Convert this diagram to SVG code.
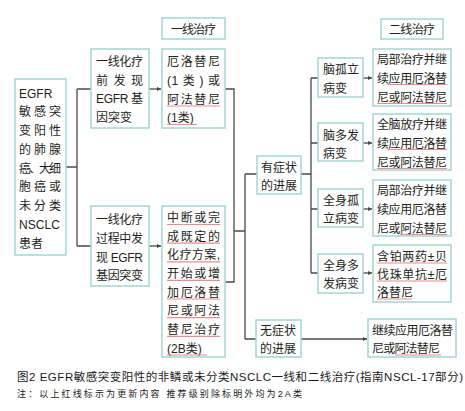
<svg xmlns="http://www.w3.org/2000/svg" width="465" height="411" viewBox="0 0 465 411">
<defs>
<marker id="ah" markerWidth="4" markerHeight="4" refX="4" refY="2" orient="auto" markerUnits="userSpaceOnUse">
<path d="M0,0 L4,2 L0,4 z" fill="#444"/>
</marker>
<style>
.box{fill:#fff;stroke:#a3d6d6;stroke-width:1.5}
.t{font-family:"Liberation Sans","Noto Sans CJK SC",sans-serif;font-size:12px;fill:#231f20}
.h{font-family:"Liberation Sans","Noto Sans CJK SC",sans-serif;font-size:12px;fill:#231f20}
.c{fill:none;stroke:#4a4a4a;stroke-width:1.3}
.ul{stroke:#f08a8a;stroke-width:1.2}
.cap{font-family:"Liberation Sans","Noto Sans CJK SC",sans-serif;fill:#1a1a1a}
</style>
</defs>
<rect width="465" height="411" fill="#fff"/>

<g id="connectors">
<path class="c" d="M66,167 H77 M77,89 V246 M77,89 H91 M77,246 H91"/>
<path class="c" d="M149,89 H161" marker-end="url(#ah)"/>
<path class="c" d="M149,246 H161" marker-end="url(#ah)"/>
<path class="c" d="M225,89 H234 V282 H225 M234,231 H245 M245,174 V339 M245,174 H257 M245,339 H256"/>
<path class="c" d="M301,174 H311 M311,78 V273 M311,78 H318 M311,143 H318 M311,209 H318 M311,273 H318"/>
<path class="c" d="M363,78 H372" marker-end="url(#ah)"/>
<path class="c" d="M363,143 H372" marker-end="url(#ah)"/>
<path class="c" d="M363,209 H372" marker-end="url(#ah)"/>
<path class="c" d="M363,273 H372" marker-end="url(#ah)"/>
<path class="c" d="M301,339 H367" stroke-width="1.6" stroke="#666" marker-end="url(#ah)"/>
</g>

<g id="header1">
<rect class="box" x="162" y="18" width="63" height="21"/>
<text class="h" x="171" y="33.5" textLength="45" lengthAdjust="spacing">一线治疗</text>
</g>
<g id="header2">
<rect class="box" x="381" y="19" width="62" height="20"/>
<text class="h" x="389" y="34" textLength="46" lengthAdjust="spacing">二线治疗</text>
</g>

<g id="patient">
<rect class="box" x="15" y="79" width="51" height="176"/>
<text class="t" x="19" y="97.5">EGFR</text>
<text class="t" x="19" y="116.3" textLength="42" lengthAdjust="spacing">敏感突</text>
<text class="t" x="19" y="135" textLength="42" lengthAdjust="spacing">变阳性</text>
<text class="t" x="19" y="153.8" textLength="42" lengthAdjust="spacing">的肺腺</text>
<text class="t" x="19" y="172.5" textLength="42" lengthAdjust="spacing">癌、大细</text>
<text class="t" x="19" y="191.3" textLength="42" lengthAdjust="spacing">胞癌或</text>
<text class="t" x="19" y="210" textLength="42" lengthAdjust="spacing">未分类</text>
<text class="t" x="19" y="228.8" textLength="41" lengthAdjust="spacing">NSCLC</text>
<text class="t" x="19" y="247.5">患者</text>
</g>

<g id="before">
<rect class="box" x="91" y="49" width="58" height="79"/>
<text class="t" x="96" y="65.5" textLength="47" lengthAdjust="spacing">一线化疗</text>
<text class="t" x="96" y="84.5" textLength="47" lengthAdjust="spacing">前发现</text>
<text class="t" x="96" y="103" textLength="47" lengthAdjust="spacing">EGFR 基</text>
<text class="t" x="96" y="121.5">因突变</text>
</g>

<g id="during">
<rect class="box" x="91" y="206" width="58" height="80"/>
<text class="t" x="96" y="223.5" textLength="47" lengthAdjust="spacing">一线化疗</text>
<text class="t" x="96" y="242.5" textLength="47" lengthAdjust="spacing">过程中发</text>
<text class="t" x="96" y="261.5" textLength="47" lengthAdjust="spacing">现 EGFR</text>
<text class="t" x="96" y="280" textLength="47" lengthAdjust="spacing">基因突变</text>
</g>

<g id="tx1">
<rect class="box" x="162" y="49" width="63" height="79"/>
<text class="t" x="167" y="65.5" textLength="53" lengthAdjust="spacing">厄洛替尼</text>
<text class="t" x="167" y="84.5" textLength="53" lengthAdjust="spacing">(1 类 ) 或</text>
<text class="t" x="167" y="103.5" textLength="53" lengthAdjust="spacing">阿法替尼</text>
<text class="t" x="167" y="121.5">(1类)</text>
<path class="ul" d="M167,106 H220 M167,124.5 H197"/>
</g>

<g id="tx2">
<rect class="box" x="162" y="206" width="63" height="151"/>
<text class="t" x="167" y="222" textLength="53" lengthAdjust="spacing">中断或完</text>
<text class="t" x="167" y="240.6" textLength="53" lengthAdjust="spacing">成既定的</text>
<text class="t" x="167" y="259.3" textLength="53" lengthAdjust="spacing">化疗方案,</text>
<text class="t" x="167" y="277.9" textLength="53" lengthAdjust="spacing">开始或增</text>
<text class="t" x="167" y="296.5" textLength="53" lengthAdjust="spacing">加厄洛替</text>
<text class="t" x="167" y="315.2" textLength="53" lengthAdjust="spacing">尼或阿法</text>
<text class="t" x="167" y="333.8" textLength="53" lengthAdjust="spacing">替尼治疗</text>
<text class="t" x="167" y="352.5">(2B类)</text>
<path class="ul" d="M167,224.5 H220 M167,243.1 H220 M167,261.8 H220 M167,280.4 H220 M167,299 H220 M167,317.7 H220 M167,336.3 H220 M167,355 H207"/>
</g>

<g id="symptomatic">
<rect class="box" x="257" y="156" width="44" height="38"/>
<text class="t" x="261" y="171.5">有症状</text>
<text class="t" x="261" y="189.5">的进展</text>
</g>
<g id="asymptomatic">
<rect class="box" x="256" y="320" width="45" height="37"/>
<text class="t" x="260" y="334.5">无症状</text>
<text class="t" x="260" y="352.5">的进展</text>
</g>

<g id="brain-iso">
<rect class="box" x="318" y="58" width="45" height="39"/>
<text class="t" x="323" y="73.5" textLength="36" lengthAdjust="spacing">脑孤立</text>
<text class="t" x="323" y="92.5">病变</text>
</g>
<g id="brain-multi">
<rect class="box" x="318" y="123" width="45" height="38"/>
<text class="t" x="323" y="139.5">脑多发</text>
<text class="t" x="323" y="157.5">病变</text>
</g>
<g id="sys-iso">
<rect class="box" x="318" y="189" width="45" height="38"/>
<text class="t" x="323" y="204.5">全身孤</text>
<text class="t" x="323" y="222.5">立病变</text>
</g>
<g id="sys-multi">
<rect class="box" x="318" y="254" width="45" height="39"/>
<text class="t" x="323" y="269.5">全身多</text>
<text class="t" x="323" y="287.5">发病变</text>
</g>

<g id="r1">
<rect class="box" x="373" y="49" width="78" height="57"/>
<text class="t" x="377" y="63.5" textLength="70" lengthAdjust="spacing">局部治疗并继</text>
<text class="t" x="377" y="82.5" textLength="70" lengthAdjust="spacing">续应用厄洛替</text>
<text class="t" x="377" y="101.5" textLength="70" lengthAdjust="spacing">尼或阿法替尼</text>
<path class="ul" d="M388,84.5 H447 M377,103.5 H447"/>
</g>
<g id="r2">
<rect class="box" x="373" y="114" width="78" height="56"/>
<text class="t" x="377" y="128.5" textLength="70" lengthAdjust="spacing">全脑放疗并继</text>
<text class="t" x="377" y="147.5" textLength="70" lengthAdjust="spacing">续应用厄洛替</text>
<text class="t" x="377" y="166.5" textLength="70" lengthAdjust="spacing">尼或阿法替尼</text>
<path class="ul" d="M388,149.5 H447 M377,168.5 H447"/>
</g>
<g id="r3">
<rect class="box" x="373" y="180" width="78" height="56"/>
<text class="t" x="377" y="194.5" textLength="70" lengthAdjust="spacing">局部治疗并继</text>
<text class="t" x="377" y="213.5" textLength="70" lengthAdjust="spacing">续应用厄洛替</text>
<text class="t" x="377" y="232.5" textLength="70" lengthAdjust="spacing">尼或阿法替尼</text>
<path class="ul" d="M400,234.5 H447"/>
</g>
<g id="r4">
<rect class="box" x="373" y="245" width="78" height="57"/>
<text class="t" x="377" y="260.5" textLength="70" lengthAdjust="spacing">含铂两药±贝</text>
<text class="t" x="377" y="278.5" textLength="70" lengthAdjust="spacing">伐珠单抗±厄</text>
<text class="t" x="377" y="296.5">洛替尼</text>
<path class="ul" d="M377,263 H447 M377,281 H447 M377,299 H412"/>
</g>
<g id="r5">
<rect class="box" x="368" y="319" width="88" height="38"/>
<text class="t" x="372" y="334.5" textLength="81" lengthAdjust="spacing">继续应用厄洛替</text>
<text class="t" x="372" y="352.5" textLength="68" lengthAdjust="spacing">尼或阿法替尼</text>
<path class="ul" d="M395,355 H441"/>
</g>

<g id="caption">
<text class="cap" x="17" y="381" font-size="11.5" textLength="446" lengthAdjust="spacing">图2 EGFR敏感突变阳性的非鳞或未分类NSCLC一线和二线治疗(指南NSCL-17部分)</text>
<text class="cap" x="17" y="397" font-size="9" textLength="285" lengthAdjust="spacing">注：以上红线标示为更新内容 推荐级别除标明外均为2A类</text>
</g>
</svg>
